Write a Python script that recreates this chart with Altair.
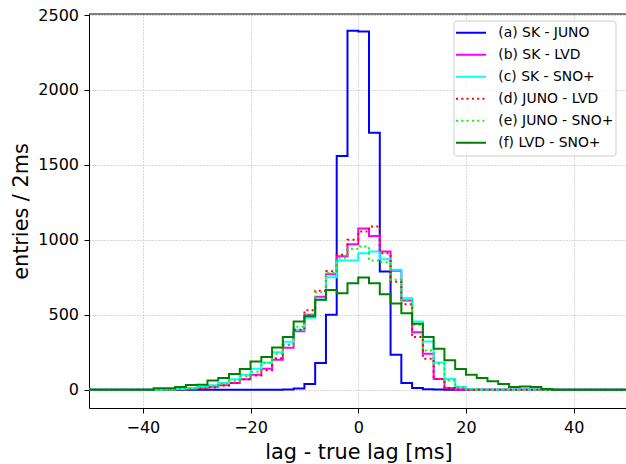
import altair as alt
import pandas as pd

labels = ["(a) SK - JUNO", "(b) SK - LVD", "(c) SK - SNO+",
          "(d) JUNO - LVD", "(e) JUNO - SNO+", "(f) LVD - SNO+"]
colors = ["#0000ff", "#ff00ff", "#00ffff", "#ff0000", "#00ff00", "#008000"]
dash_styles = [[1, 0], [1, 0], [1, 0], [2, 3.3], [2, 3.3], [1, 0]]

# bin edges of the 2 ms histogram, -50 .. 50
bin_edges = list(range(-50, 52, 2))

# entries per bin (50 bins, left edge -50 ... 48)
counts_a = [0, 0, 0, 0, 0,
            0, 0, 0, 0, 0, 0, 0, 0, 0, 0, 0, 0, 0,
            2, 8, 38, 178, 500, 1560, 2395, 2390, 1715, 789, 233, 44, 11, 3, 1,
            0, 0, 0, 0, 0, 0, 0, 0, 0, 0, 0, 0, 0, 0, 0, 0, 0]
counts_b = [0, 0, 0, 0, 0,
            0, 0, 2, 4, 8, 12, 20, 30, 45, 70, 100, 140, 200, 280, 390,
            500, 620, 770, 890, 970, 1075, 1025, 922, 793, 596, 384, 240, 71, 11, 2,
            0, 0, 0, 0, 0, 0, 0, 0, 0, 0, 0, 0, 0, 0, 0]
counts_c = [0, 0, 0, 0, 0,
            0, 0, 2, 5, 10, 20, 30, 45, 70, 100, 140, 180, 250, 320, 400,
            480, 600, 750, 862, 862, 911, 922, 871, 800, 611, 456, 322, 182, 71, 18, 3,
            0, 0, 0, 0, 0, 0, 0, 0, 0, 0, 0, 0, 0, 0]
counts_d = [0, 0, 0, 0, 0,
            0, 0, 0, 2, 5, 10, 15, 28, 45, 70, 95, 130, 210, 300, 400,
            530, 660, 790, 900, 1000, 1055, 1089, 910, 720, 570, 351, 207, 71, 11, 2,
            0, 0, 0, 0, 0, 0, 0, 0, 0, 0, 0, 0, 0, 0, 0]
counts_e = [0, 0, 0, 0, 0,
            0, 0, 0, 3, 8, 15, 25, 40, 60, 90, 120, 180, 240, 300, 420,
            500, 650, 780, 880, 940, 956, 862, 850, 733, 596, 433, 262, 173, 62, 18, 3,
            0, 0, 0, 0, 0, 0, 0, 0, 0, 0, 0, 0, 0, 0]
counts_f = [0, 0, 0, 0, 0,
            0, 10, 10, 18, 31, 33, 62, 78, 105, 138, 189, 218, 282, 351, 455,
            490, 600, 665, 644, 710, 748, 711, 637, 575, 511, 440, 351, 273, 196, 138,
            100, 78, 56, 38, 18, 22, 18, 5, 0, 0,
            0, 0, 0, 0, 0]

all_counts = [counts_a, counts_b, counts_c, counts_d, counts_e, counts_f]

x_ticks = [-40, -20, 0, 20, 40]
y_ticks = [0, 500, 1000, 1500, 2000, 2500]

W, H = 537, 394
FONT = "DejaVu Sans"

x_axis = alt.Axis(values=x_ticks, title="lag - true lag [ms]", labelFontSize=16,
                  labelPadding=6, tickSize=5, titleFontSize=20.8,
                  titleFontWeight="normal", titleBaseline="alphabetic", titleY=50,
                  titleX=269.5)
y_axis = alt.Axis(values=y_ticks, format="d", title="entries / 2ms", labelFontSize=16,
                  labelPadding=5.5, tickSize=5, titleFontSize=20.8,
                  titleFontWeight="normal", titleBaseline="alphabetic", titleX=-62)
x_scale = alt.Scale(domain=[-50, 49.72], nice=False, zero=False)
y_scale = alt.Scale(domain=[-122, 2507], nice=False, zero=False)

legend = alt.Legend(title=None, orient="none", legendX=364.5, legendY=6.5,
                    symbolType="stroke", symbolSize=900, symbolStrokeWidth=2,
                    labelFontSize=13.9, labelOffset=11.3, rowPadding=0,
                    clipHeight=21.5,
                    padding=1.5, strokeColor="#cccccc",
                    fillColor="rgba(255,255,255,0.8)", cornerRadius=3,
                    labelColor="#000000")

layers = []
for lab, cnt in zip(labels, all_counts):
    xs = bin_edges[:-1] + [bin_edges[-1]]
    ys = cnt + [cnt[-1]]
    df = pd.DataFrame({"edge": xs, "count": ys, "series": lab,
                       "idx": list(range(len(xs)))})
    layers.append(
        alt.Chart(df).mark_line(interpolate="step-after", strokeWidth=2, clip=True).encode(
            x=alt.X("edge:Q", scale=x_scale, axis=x_axis),
            y=alt.Y("count:Q", scale=y_scale, axis=y_axis),
            color=alt.Color("series:N", scale=alt.Scale(domain=labels, range=colors),
                            legend=legend),
            strokeDash=alt.StrokeDash("series:N",
                                      scale=alt.Scale(domain=labels, range=dash_styles),
                                      legend=legend),
            order="idx:Q",
        )
    )

top_spine = alt.Chart(pd.DataFrame({"k": [0]})).mark_rule(
    color="#000000", strokeWidth=1).encode(
    y=alt.value(0), x=alt.value(0), x2=alt.value(W))

chart = alt.layer(*layers, top_spine).properties(
    width=W, height=H,
    autosize=alt.AutoSizeParams(type="none"),
    padding={"left": 89, "top": 14, "right": 0, "bottom": 56},
).configure(font=FONT).configure_view(stroke=None).configure_axis(
    domainColor="#000000", domainWidth=1, tickColor="#000000", tickWidth=1,
    labelColor="#000000", titleColor="#000000", labelFont=FONT, titleFont=FONT,
    gridColor="#b0b0b0", gridDash=[1, 2], gridWidth=1,
).configure_legend(labelFont=FONT)

chart.save("out.html", embed_options={"renderer": "svg", "actions": False})
